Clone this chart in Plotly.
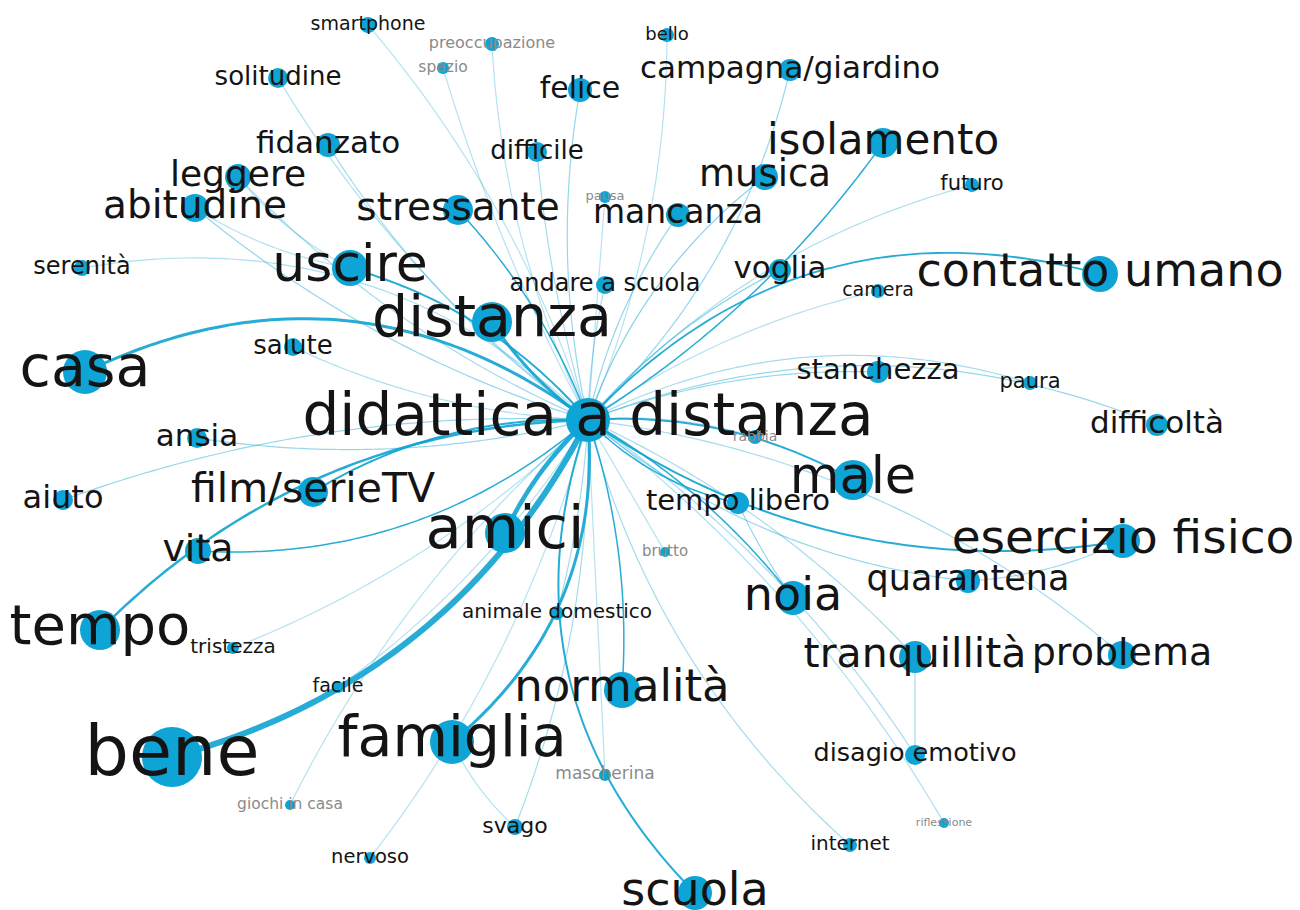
import numpy as np
import plotly.graph_objects as go

# ---------------- data ----------------
labels = [
    "didattica a distanza", "bene", "distanza", "casa", "amici", "famiglia", "tempo", "male",
    "uscire", "contatto umano", "isolamento", "esercizio fisico", "noia", "normalità", "scuola",
    "tranquillità", "problema", "film/serieTV", "stressante", "abitudine", "leggere", "musica",
    "mancanza", "vita", "quarantena", "campagna/giardino", "felice", "fidanzato", "solitudine",
    "difficile", "stanchezza", "difficoltà", "voglia", "tempo libero", "disagio emotivo",
    "andare a scuola", "ansia", "aiuto", "salute", "serenità", "smartphone", "preoccupazione",
    "spazio", "bello", "futuro", "pausa", "camera", "paura", "rabbia", "brutto",
    "animale domestico", "tristezza", "facile", "giochi in casa", "nervoso", "svago",
    "mascherina", "internet", "riflessione",
]
node_x = [
    588, 172, 492, 85, 505, 452, 100, 853,
    350, 1100, 883, 1123, 793, 622, 695,
    915, 1122, 313, 458, 195, 238, 765,
    678, 198, 968, 790, 580, 328, 278,
    537, 878, 1157, 780, 738, 915,
    605, 197, 63, 293, 82, 368, 492,
    443, 667, 972, 605, 878, 1030, 755, 665,
    557, 233, 338, 290, 370, 515,
    605, 850, 944,
]
node_y = [
    420, 757, 322, 372, 533, 742, 630, 480,
    268, 274, 143, 541, 598, 690, 893,
    657, 655, 492, 210, 208, 177, 177,
    215, 551, 581, 70, 90, 145, 78,
    152, 372, 425, 270, 503, 755,
    285, 438, 500, 347, 268, 25, 44,
    68, 35, 185, 197, 291, 383, 437, 552,
    613, 648, 687, 805, 858, 827,
    775, 845, 823,
]
# word frequency (drives label size)
freq = [
    58, 70, 57, 57, 59, 57, 56, 51,
    52, 46, 42, 47, 46, 45, 46,
    41, 38, 41, 39, 39, 36, 37,
    33, 38, 35, 31, 30, 31, 26,
    26, 29, 31, 31, 29, 25.5,
    24, 31, 32, 26, 24, 19, 16,
    15.5, 18, 21, 13, 19, 21, 14, 15,
    20, 20, 19, 15.5, 19.5, 22,
    17, 20, 11,
]
# node degree (drives node size)
degree = [
    44, 60, 40, 44, 40, 44, 40, 40,
    36, 36, 30, 34, 34, 36, 34,
    32, 28, 30, 30, 28, 26, 26,
    24, 26, 24, 22, 24, 24, 20,
    20, 22, 22, 22, 22, 20,
    18, 20, 20, 18, 16, 16, 14,
    12, 14, 14, 12, 14, 14, 14, 10,
    14, 12, 12, 10, 12, 16,
    12, 14, 10,
]

HUB = "didattica a distanza"
edge_src = [
    "bene", "amici", "casa", "famiglia", "distanza", "tempo", "scuola", "uscire", "male",
    "esercizio fisico", "contatto umano", "isolamento", "noia", "tempo libero", "film/serieTV",
    "vita", "stressante", "normalità", "musica", "mancanza", "voglia", "quarantena",
    "difficoltà", "stanchezza", "paura", "tranquillità", "problema", "disagio emotivo",
    "riflessione", "internet", "felice", "campagna/giardino", "fidanzato", "solitudine",
    "difficile", "leggere", "abitudine", "smartphone", "preoccupazione", "spazio", "bello",
    "futuro", "pausa", "camera", "rabbia", "andare a scuola", "serenità", "salute", "ansia",
    "aiuto", "tristezza", "facile", "giochi in casa", "nervoso", "svago", "mascherina",
    "brutto", "animale domestico",
    "tempo libero", "tranquillità", "quarantena", "famiglia", "abitudine", "leggere",
]
edge_dst = [HUB] * 58 + ["noia", "disagio emotivo", "esercizio fisico", "svago", "uscire", "uscire"]
edge_weight = [
    6, 4.5, 3, 3, 3, 2.5, 2, 2, 2,
    2, 1.8, 1.5, 1.5, 1.5, 2,
    1.5, 1.5, 1.5, 1.2, 1, 1.2, 1,
    1, 1, 0.8, 0.8, 0.8, 0.8,
    0.7, 0.8, 1, 1, 0.8, 0.7,
    0.8, 0.8, 1, 0.6, 0.6, 0.6, 0.6,
    0.7, 0.6, 0.6, 0.6, 0.8, 0.7, 0.7, 1,
    1, 0.6, 0.6, 0.6, 0.6, 0.8, 0.6,
    0.6, 0.8,
    1, 0.8, 0.8, 0.6, 0.6, 0.6,
]
edge_bend = [
    0.22, -0.1, -0.3, 0.26, 0.1, -0.2, -0.31, -0.15, 0.15,
    -0.2, 0.3, -0.1, 0.1, -0.15, -0.15,
    0.2, -0.1, 0.1, 0.15, 0.1, 0.1, -0.15,
    0.2, 0.1, 0.2, 0.1, 0.15, 0.1,
    0.1, -0.15, 0.1, -0.15, 0.1, 0.1,
    0.05, 0.1, 0.1, -0.1, 0.1, 0.05, -0.1,
    0.15, 0.0, 0.1, 0.1, 0.05, -0.25, 0.1, 0.1,
    -0.1, 0.1, 0.1, -0.1, 0.1, 0.1, 0.0,
    0.0, 0.05,
    0.05, 0.0, 0.1, 0.1, 0.1, 0.1,
]

# ---------------- drawing ----------------
pos = {l: (x, y) for l, x, y in zip(labels, node_x, node_y)}
fig = go.Figure()

order = np.argsort(edge_weight)
t = np.linspace(0, 1, 50)
for i in order:
    s, d, w, b = edge_src[i], edge_dst[i], edge_weight[i], edge_bend[i]
    x0, y0 = pos[s]
    x2, y2 = pos[d]
    dx, dy = x2 - x0, y2 - y0
    cx = (x0 + x2) / 2 - b * dy
    cy = (y0 + y2) / 2 + b * dx
    bx = (1 - t) ** 2 * x0 + 2 * (1 - t) * t * cx + t ** 2 * x2
    by = (1 - t) ** 2 * y0 + 2 * (1 - t) * t * cy + t ** 2 * y2
    alpha = min(0.95, 0.12 + w * 0.32) if w < 1.5 else 0.9
    width = 1.2 if w < 1.5 else w
    fig.add_trace(go.Scatter(
        x=bx, y=by, mode="lines",
        line=dict(color=f"rgba(16,163,210,{alpha:.2f})", width=width, shape="spline"),
        hoverinfo="skip", showlegend=False,
    ))

fig.add_trace(go.Scatter(
    x=node_x, y=node_y, mode="markers",
    marker=dict(size=degree, color="#0fa4d6", opacity=1, line=dict(width=0)),
    hoverinfo="text", hovertext=labels, showlegend=False,
))

text_colors = ["#8a8a8a" if f <= 17 else "#141414" for f in freq]
fig.add_trace(go.Scatter(
    x=node_x, y=node_y, mode="text", text=labels,
    textposition="middle center", cliponaxis=False,
    textfont=dict(family="DejaVu Sans", size=freq, color=text_colors),
    hoverinfo="skip", showlegend=False,
))

# the page body has an 8px margin: map data coordinates to page pixels
fig.update_layout(
    width=1292, height=902,
    margin=dict(l=0, r=0, t=0, b=0),
    paper_bgcolor="white", plot_bgcolor="white",
    xaxis=dict(range=[8, 1300], visible=False, fixedrange=True),
    yaxis=dict(range=[910, 8], visible=False, fixedrange=True),
)

fig.write_html("out.html")
